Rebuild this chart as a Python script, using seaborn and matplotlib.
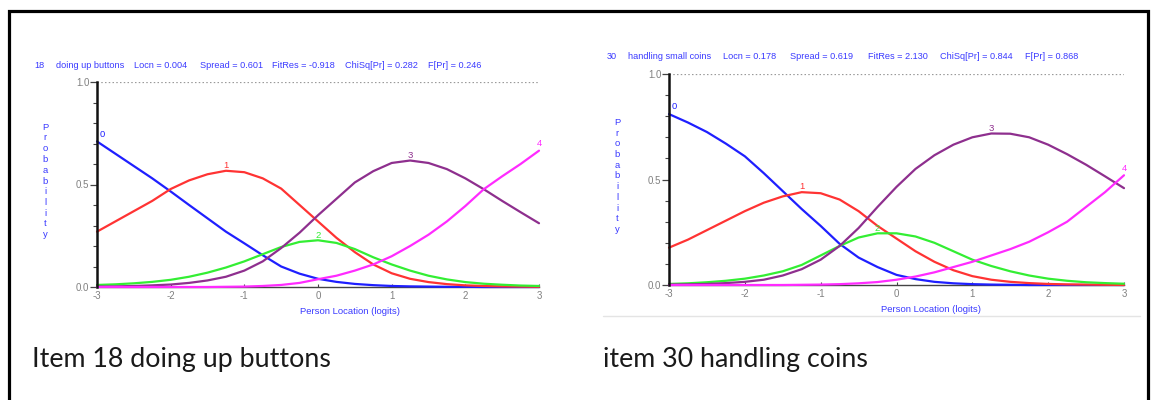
import numpy as np
import pandas as pd
import matplotlib
matplotlib.use("Agg")
import matplotlib.pyplot as plt
import seaborn as sns
from matplotlib.patches import Rectangle
from matplotlib.lines import Line2D
from matplotlib.ticker import MultipleLocator, FixedLocator

# ---------------- data ----------------
logits = [-3.0, -2.75, -2.5, -2.25, -2.0, -1.75, -1.5, -1.25, -1.0, -0.75, -0.5, -0.25,
          0.0, 0.25, 0.5, 0.75, 1.0, 1.25, 1.5, 1.75, 2.0, 2.25, 2.5, 2.75, 3.0]
categories = ["0", "1", "2", "3", "4"]

# Item 18 doing up buttons
item18_cat0 = [0.71, 0.65, 0.59, 0.53, 0.466, 0.40, 0.335, 0.27, 0.213, 0.155, 0.10, 0.065,
               0.04, 0.025, 0.015, 0.009, 0.005, 0.003, 0.002, 0.001, 0.001, 0.0, 0.0, 0.0, 0.0]
item18_cat1 = [0.27, 0.32, 0.37, 0.42, 0.478, 0.52, 0.55, 0.567, 0.56, 0.53, 0.48, 0.40,
               0.32, 0.24, 0.17, 0.11, 0.067, 0.04, 0.024, 0.014, 0.008, 0.005, 0.003, 0.002, 0.001]
item18_cat2 = [0.01, 0.013, 0.018, 0.025, 0.035, 0.05, 0.07, 0.095, 0.125, 0.16, 0.195, 0.22,
               0.228, 0.215, 0.185, 0.145, 0.11, 0.08, 0.055, 0.037, 0.024, 0.016, 0.011, 0.007, 0.005]
item18_cat3 = [0.002, 0.003, 0.005, 0.008, 0.012, 0.02, 0.032, 0.05, 0.08, 0.125, 0.19, 0.265,
               0.35, 0.43, 0.51, 0.565, 0.605, 0.617, 0.605, 0.575, 0.53, 0.477, 0.42, 0.365, 0.311]
item18_cat4 = [0.0, 0.0, 0.0, 0.0, 0.0, 0.0, 0.0, 0.001, 0.002, 0.005, 0.01, 0.02,
               0.038, 0.055, 0.08, 0.11, 0.15, 0.2, 0.255, 0.32, 0.395, 0.477, 0.54, 0.6, 0.665]

# Item 30 handling small coins
item30_cat0 = [0.81, 0.77, 0.725, 0.67, 0.61, 0.53, 0.445, 0.36, 0.28, 0.195, 0.13, 0.085,
               0.048, 0.028, 0.015, 0.008, 0.004, 0.002, 0.001, 0.0, 0.0, 0.0, 0.0, 0.0, 0.0]
item30_cat1 = [0.177, 0.215, 0.26, 0.305, 0.35, 0.39, 0.42, 0.44, 0.435, 0.405, 0.35, 0.28,
               0.22, 0.16, 0.11, 0.07, 0.042, 0.025, 0.015, 0.009, 0.005, 0.003, 0.002, 0.001, 0.0]
item30_cat2 = [0.005, 0.008, 0.013, 0.02, 0.03, 0.045, 0.065, 0.095, 0.14, 0.185, 0.225, 0.245,
               0.245, 0.23, 0.2, 0.16, 0.12, 0.09, 0.065, 0.045, 0.03, 0.02, 0.013, 0.009, 0.006]
item30_cat3 = [0.002, 0.003, 0.005, 0.009, 0.015, 0.025, 0.045, 0.075, 0.12, 0.185, 0.27, 0.37,
               0.465, 0.55, 0.615, 0.665, 0.7, 0.718, 0.717, 0.7, 0.665, 0.62, 0.57, 0.515, 0.459]
item30_cat4 = [0.0, 0.0, 0.0, 0.0, 0.0, 0.0, 0.0, 0.001, 0.002, 0.004, 0.008, 0.014,
               0.025, 0.04, 0.06, 0.085, 0.11, 0.14, 0.17, 0.205, 0.25, 0.30, 0.37, 0.44, 0.52]

title18 = ["18", "doing up buttons", "Locn = 0.004", "Spread = 0.601",
           "FitRes = -0.918", "ChiSq[Pr] = 0.282", "F[Pr] = 0.246"]
title30 = ["30", "handling small coins", "Locn = 0.178", "Spread = 0.619",
           "FitRes = 2.130", "ChiSq[Pr] = 0.844", "F[Pr] = 0.868"]
caption18 = "Item 18 doing up buttons"
caption30 = "item 30 handling coins"
x_label = "Person Location (logits)"
y_label = "Probability"
y_tick_labels = ["0.0", "0.5", "1.0"]
x_tick_labels = ["-3", "-2", "-1", "0", "1", "2", "3"]

# ---------------- styling ----------------
sns.set_theme(style="white")
plt.rcParams["font.family"] = ["Liberation Sans", "DejaVu Sans"]

W, H = 1151, 400
palette = {"0": "#1f1fff", "1": "#ff3333", "2": "#33ee33", "3": "#8e2f8e", "4": "#ff2bff"}
text_blue = "#3a3aff"
grey = "#808080"

fig = plt.figure(figsize=(W / 100, H / 100), dpi=100)
fig.patch.set_facecolor("white")


def fx(px):
    return px / W


def fy(py):
    return 1 - py / H


def fit_width(t, target_px):
    fig.canvas.draw()
    w = t.get_window_extent(renderer=fig.canvas.get_renderer()).width
    t.set_fontsize(t.get_fontsize() * target_px / w)


def make_df(series):
    rows = []
    for cat, vals in zip(categories, series):
        for x, p in zip(logits, vals):
            rows.append({"logit": x, "prob": p, "cat": cat})
    return pd.DataFrame(rows)


def draw_panel(rect, series, title_parts, title_xs, title_y, ylab_x, ylab_y,
               xlab_x, xlab_y):
    ax = fig.add_axes(rect)
    ax.set_facecolor("none")
    df = make_df(series)
    sns.lineplot(data=df, x="logit", y="prob", hue="cat", palette=palette,
                 legend=False, ax=ax, lw=1.6, estimator=None, sort=False)
    for ln in ax.lines:
        ln.set_clip_on(False)
        ln.set_solid_joinstyle("round")
    ax.axhline(1.0, color="#9a9a9a", lw=0.9, ls=(0, (1.2, 1.8)), zorder=0)
    ax.set_xlim(-3, 3)
    ax.set_ylim(0, 1)
    ax.set_xlabel("")
    ax.set_ylabel("")
    for s in ["top", "right"]:
        ax.spines[s].set_visible(False)
    ax.spines["left"].set_color("#111111")
    ax.spines["left"].set_linewidth(1.8)
    ax.spines["bottom"].set_color("#444444")
    ax.spines["bottom"].set_linewidth(1.0)
    ax.spines["bottom"].set_zorder(0)

    ax.yaxis.set_major_locator(FixedLocator([0.0, 0.5, 1.0]))
    ax.set_yticklabels(y_tick_labels)
    ax.yaxis.set_minor_locator(MultipleLocator(0.1))
    ax.xaxis.set_major_locator(FixedLocator([-3, -2, -1, 0, 1, 2, 3]))
    ax.set_xticklabels(x_tick_labels)
    ax.tick_params(axis="y", which="major", direction="out", length=5, width=0.9,
                   color="#444444", labelsize=7, labelcolor=grey, pad=0.5, left=True)
    ax.tick_params(axis="y", which="minor", direction="out", length=3, width=0.8,
                   color="#444444", left=True)
    ax.tick_params(axis="x", which="major", direction="in", length=2.5, width=0.8,
                   color="#444444", labelsize=7, labelcolor=grey, pad=3.2, bottom=True)

    # category labels on curves
    for cat, vals in zip(categories, series):
        vals = np.asarray(vals)
        if cat == "0":
            xi, dx, dy, ha = 0, 2, 2, "left"
        elif cat == "4":
            xi, dx, dy, ha = len(vals) - 1, 0, 2, "center"
        else:
            xi, dx, dy, ha = int(np.argmax(vals)), 0, 0.5, "center"
        ax.annotate(cat, (logits[xi], vals[xi]), xytext=(dx, dy),
                    textcoords="offset points", ha=ha, va="bottom",
                    fontsize=6.8, color=palette[cat], annotation_clip=False)

    # title pieces
    for part, x in zip(title_parts, title_xs):
        fig.text(fx(x[0]), fy(title_y), part, ha="left", va="center",
                 fontsize=6.6, color=text_blue)
    # stacked y label
    fig.text(fx(ylab_x), fy(ylab_y), "\n".join(y_label), ha="center", va="center",
             fontsize=6.8, color=text_blue, linespacing=1.25)
    fig.text(fx(xlab_x), fy(xlab_y), x_label, ha="center", va="center",
             fontsize=6.8, color=text_blue)
    return ax


title18_x = [(34, 42), (56, 123), (134, 188), (200, 261), (272, 333), (345, 418), (428, 482)]
title30_x = [(607, 617), (628, 710), (723, 778), (790, 855), (868, 928), (940, 1013), (1025, 1080)]

ax1 = draw_panel([fx(97), fy(287), (539 - 97) / W, (287 - 82) / H],
                 [item18_cat0, item18_cat1, item18_cat2, item18_cat3, item18_cat4],
                 title18, title18_x, 65.5, 45, 181, 350, 311)
ax2 = draw_panel([fx(669), fy(285), (1124 - 669) / W, (285 - 74) / H],
                 [item30_cat0, item30_cat1, item30_cat2, item30_cat3, item30_cat4],
                 title30, title30_x, 56.5, 617, 176, 931, 309)

# captions
c1 = fig.text(fx(32), fy(367), caption18, ha="left", va="baseline",
              fontsize=16, color="#1a1a1a", family=["Lato", "DejaVu Sans"])
c2 = fig.text(fx(603), fy(367), caption30, ha="left", va="baseline",
              fontsize=16, color="#1a1a1a", family=["Lato", "DejaVu Sans"])
fit_width(c1, 299)
c2.set_fontsize(c1.get_fontsize())

# faint separator under right chart image
fig.add_artist(Line2D([fx(603), fx(1140)], [fy(316), fy(316)], color="#e4e4e4", lw=1.0))

# outer black frame
fig.add_artist(Rectangle((fx(9), -0.05), (1148 - 9) / W, fy(11) + 0.05,
                         transform=fig.transFigure, fill=False, ec="black", lw=2.3,
                         clip_on=False))

fig.savefig("out.png", dpi=100, facecolor="white")
